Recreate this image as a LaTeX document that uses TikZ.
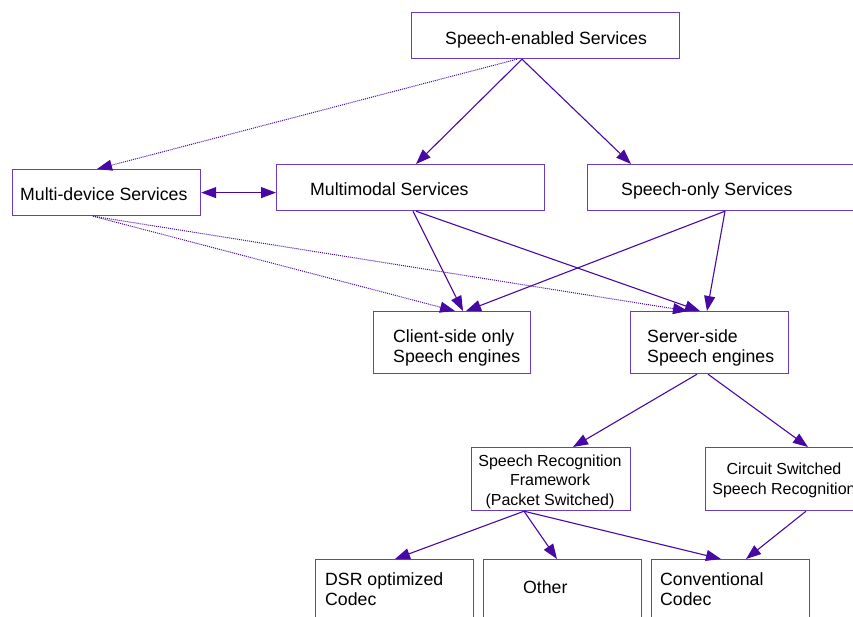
\documentclass[tikz,border=0pt]{standalone}
\usepackage{fontspec}
\setmainfont{Liberation Sans}
\usetikzlibrary{arrows.meta}
\definecolor{boxcol}{RGB}{104,60,200}
\definecolor{arrcol}{RGB}{72,8,166}
\definecolor{dotcol}{RGB}{110,66,204}
\tikzset{
  box/.style={draw=boxcol, line width=1.2pt, inner sep=0pt, anchor=north west},
  txt/.style={inner sep=0pt, anchor=base west, align=left, font=\fontsize{17.7}{20}\selectfont},
  smalltxt/.style={inner sep=0pt, anchor=base, align=center, font=\fontsize{16}{19.5}\selectfont},
  link/.style={draw=arrcol, line width=1.1pt, -{Triangle[length=15pt,width=11pt]}},
  dotlink/.style={draw=dotcol, line width=1pt, densely dotted, -{Triangle[length=15pt,width=11pt]}, arrcol},
}
\begin{document}
\begin{tikzpicture}[x=1pt,y=-1pt]%
\useasboundingbox (0,0) rectangle (853,616);%
% boxes
\node[box, minimum width=268pt, minimum height=46pt] (se) at (411,12) {};%
\node[box, minimum width=188pt, minimum height=46pt] (md) at (12,169) {};%
\node[box, minimum width=268pt, minimum height=46pt] (mm) at (276,164) {};%
\node[box, minimum width=268pt, minimum height=46pt] (so) at (587,164) {};%
\node[box, minimum width=157pt, minimum height=62pt] (cs) at (373,311) {};%
\node[box, minimum width=158pt, minimum height=62pt] (ss) at (630,311) {};%
\node[box, minimum width=159pt, minimum height=63pt] (srf) at (471,447) {};%
\node[box, minimum width=158pt, minimum height=63pt] (cir) at (705,447) {};%
\node[box, minimum width=158pt, minimum height=64pt] (dsr) at (315,559) {};%
\node[box, minimum width=158pt, minimum height=64pt] (oth) at (483,559) {};%
\node[box, minimum width=158pt, minimum height=64pt] (cc) at (651,559) {};%
% texts (base = last line)
\node[txt] (se-t) at (445,44) {Speech-enabled Services};%
\node[txt] (md-t) at (20,200) {Multi-device Services};%
\node[txt] (mm-t) at (310,195) {Multimodal Services};%
\node[txt] (so-t) at (621,195) {Speech-only Services};%
\node[txt] (cs-t) at (393,362) {Client-side only\\Speech engines};%
\node[txt] (ss-t) at (647,362) {Server-side\\Speech engines};%
\node[smalltxt] (srf-t) at (550,505) {Speech Recognition\\Framework\\(Packet Switched)};%
\node[smalltxt] (cir-t) at (784,494) {Circuit Switched\\Speech Recognition};%
\node[txt] (dsr-t) at (325,605) {DSR optimized\\Codec};%
\node[txt] (oth-t) at (523,593) {Other};%
\node[txt] (cc-t) at (660,605) {Conventional\\Codec};%
% connectors
\draw[link] ([xshift=111pt]se.south west) -- ([xshift=140pt]mm.north west);%
\draw[link] ([xshift=111pt]se.south west) -- ([xshift=44pt]so.north west);%
\draw[dotlink] ([xshift=106pt]se.south west) -- ([xshift=85pt]md.north west);%
\draw[link, {Triangle[length=15pt,width=11pt]}-{Triangle[length=15pt,width=11pt]}] (md.east) -- (mm.west |- md.east);%
\draw[link] ([xshift=137pt]mm.south west) -- ([xshift=90pt]cs.north west);%
\draw[link] ([xshift=140pt]mm.south west) -- ([xshift=70pt]ss.north west);%
\draw[link] ([xshift=138pt]so.south west) -- ([xshift=93pt]cs.north west);%
\draw[link] ([xshift=138pt]so.south west) -- ([xshift=77pt]ss.north west);%
\draw[dotlink] ([xshift=81pt]md.south west) -- ([xshift=82pt]cs.north west);%
\draw[dotlink] ([xshift=81pt]md.south west) -- ([xshift=58pt]ss.north west);%
\draw[link] ([xshift=67pt]ss.south west) -- ([xshift=102pt]srf.north west);%
\draw[link] ([xshift=78pt]ss.south west) -- ([xshift=103pt]cir.north west);%
\draw[link] ([xshift=53pt]srf.south west) -- ([xshift=80pt]dsr.north west);%
\draw[link] ([xshift=53pt]srf.south west) -- ([xshift=74pt]oth.north west);%
\draw[link] ([xshift=53pt]srf.south west) -- ([xshift=70pt]cc.north west);%
\draw[link] ([xshift=101pt]cir.south west) -- ([xshift=95pt]cc.north west);%
\end{tikzpicture}
\end{document}
